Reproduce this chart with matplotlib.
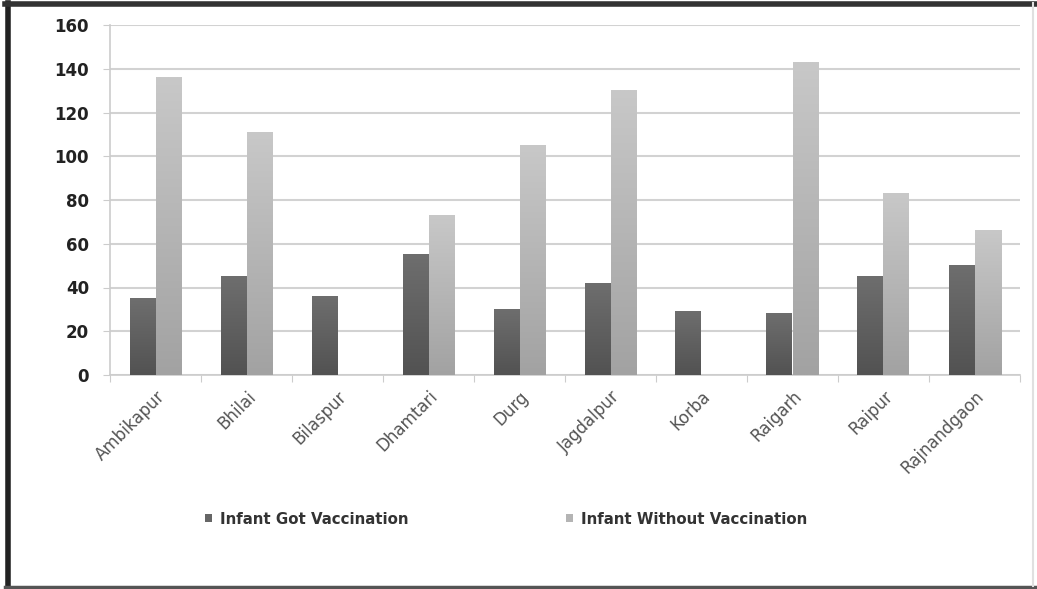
import matplotlib.pyplot as plt
import numpy as np
from matplotlib.lines import Line2D
from matplotlib.patches import Patch

# Infant vaccination counts by city
cities = ['Ambikapur', 'Bhilai', 'Bilaspur', 'Dhamtari', 'Durg',
          'Jagdalpur', 'Korba', 'Raigarh', 'Raipur', 'Rajnandgaon']
got_vaccination = [35, 45, 36, 55, 30, 42, 29, 28, 45, 50]
without_vaccination = [136, 111, 0, 73, 105, 130, 0, 143, 83, 66]
series_names = ['Infant Got Vaccination', 'Infant Without Vaccination']
yticks = [0, 20, 40, 60, 80, 100, 120, 140, 160]

fig = plt.figure(figsize=(10.37, 5.89), dpi=100)
ax = fig.add_axes([110 / 1037, 1 - 375 / 589, 910 / 1037, 350 / 589])

x = np.arange(len(cities))
w = 1 / 3.5


def gradient_bars(xs, heights, top_col, bot_col):
    # vertical gradient inside each bar, darker at the base
    bars = ax.bar(xs, heights, w, color='none', edgecolor='none', zorder=3)
    grad = np.linspace(0, 1, 256).reshape(-1, 1)
    cmap = plt.matplotlib.colors.LinearSegmentedColormap.from_list('g', [bot_col, top_col])
    for b in bars:
        h = b.get_height()
        if h <= 0:
            continue
        x0 = b.get_x()
        ax.imshow(grad, extent=(x0, x0 + b.get_width(), 0, h), origin='lower',
                  aspect='auto', cmap=cmap, zorder=3, interpolation='bilinear')
    return bars


gradient_bars(x - w / 2, got_vaccination, '#6e6e6e', '#525252')
gradient_bars(x + w / 2, without_vaccination, '#c8c8c8', '#a2a2a2')

ax.set_xlim(-0.5, len(cities) - 0.5)
ax.set_ylim(0, 160)
ax.set_yticks(yticks)
ax.set_yticklabels([str(v) for v in yticks], fontsize=12, fontweight='bold', color='#222222')
ax.yaxis.grid(True, color='#d2d2d2', lw=1.5, zorder=0)
ax.set_axisbelow(True)

# category ticks on the boundaries, labels at centres
ax.set_xticks(np.arange(len(cities) + 1) - 0.5)
ax.set_xticklabels([])
ax.set_xticks(x, minor=True)
ax.set_xticklabels(cities, minor=True, rotation=45, ha='right', rotation_mode='anchor',
                   fontsize=12, color='#555555')
ax.tick_params(axis='x', which='minor', length=0, pad=9)
ax.tick_params(axis='x', which='major', length=5, color='#cccccc', direction='out')
ax.tick_params(axis='y', length=5, color='#cccccc', pad=10)

for s in ['top', 'right']:
    ax.spines[s].set_visible(False)
for s in ['left', 'bottom']:
    ax.spines[s].set_color('#cccccc')
    ax.spines[s].set_linewidth(1.2)

handles = [Patch(facecolor='#666666'), Patch(facecolor='#b4b4b4')]
fig.legend(handles, series_names, loc='center', bbox_to_anchor=(506 / 1037, 1 - 519 / 589),
           ncol=2, frameon=False, handlelength=0.45, handleheight=0.45, handletextpad=0.55,
           columnspacing=10.5, prop={'family': 'DejaVu Sans', 'weight': 'bold', 'size': 10.8})
for t in fig.legends[0].get_texts():
    t.set_color('#333333')

# outer frame around the chart area
fig.add_artist(Line2D([8 / 1037, 8 / 1037], [0.005, 0.995], color='#222222', lw=4))
fig.add_artist(Line2D([0.005, 0.998], [1 - 4 / 589, 1 - 4 / 589], color='#333333', lw=4))
fig.add_artist(Line2D([0.005, 0.998], [2 / 589, 2 / 589], color='#555555', lw=2.5))
fig.add_artist(Line2D([1033 / 1037, 1033 / 1037], [0.005, 0.995], color='#e0e0e0', lw=1.5))

fig.savefig('out.png', dpi=100)
